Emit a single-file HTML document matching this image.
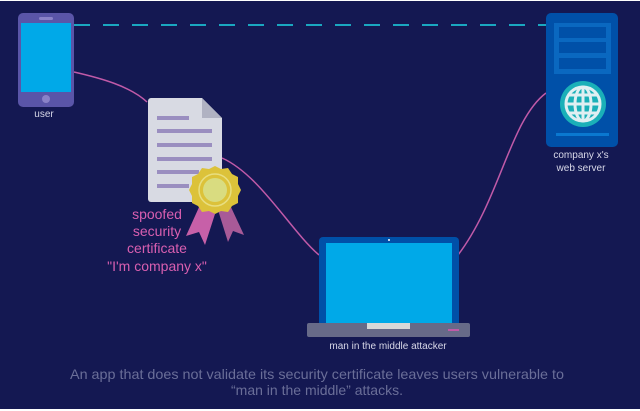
<!DOCTYPE html>
<html><head><style>
body{margin:0;width:640px;height:411px;overflow:hidden;background:#fff}
svg{display:block}
text{font-family:"Liberation Sans",sans-serif}
</style></head><body>
<svg width="640" height="411" viewBox="0 0 640 411">
<rect x="0" y="1" width="640" height="408" fill="#141852"/>
<line x1="74" y1="25" x2="546" y2="25" stroke="#1aa7c0" stroke-width="2" stroke-dasharray="16,13"/>
<path d="M74,72 C100,78 130,86 147,102" fill="none" stroke="#c05aa8" stroke-width="1.5"/>
<path d="M222,158 C260,175 290,230 319,255" fill="none" stroke="#c05aa8" stroke-width="1.5"/>
<path d="M458,255 C500,200 510,120 546,93" fill="none" stroke="#c05aa8" stroke-width="1.5"/>
<rect x="18" y="13" width="56" height="94" rx="5" fill="#5a55a8"/>
<rect x="21" y="23" width="50" height="69" fill="#00a9e8"/>
<rect x="39" y="17" width="14" height="3" rx="1.5" fill="#8a82c8"/>
<circle cx="46" cy="99" r="4" fill="#8a82c8"/>
<text x="44" y="117" font-size="10" fill="#d8d8e8" text-anchor="middle">user</text>
<path d="M151,98 H202 L222,118 V199 a3,3 0 0 1 -3,3 H151 a3,3 0 0 1 -3,-3 V101 a3,3 0 0 1 3,-3Z" fill="#d8dae3"/>
<path d="M202,98 L222,118 H202Z" fill="#b0b2c2"/>
<g fill="#9a8ec0">
<rect x="157" y="116" width="32" height="4"/>
<rect x="157" y="129" width="55" height="4"/>
<rect x="157" y="143" width="55" height="4"/>
<rect x="157" y="157" width="55" height="4"/>
<rect x="157" y="170" width="42" height="4"/>
<rect x="157" y="184" width="32" height="4"/>
</g>
<path d="M200,205 L186,236 L199,232 L205,245 L215,214Z" fill="#c760a8"/>
<path d="M218,210 L228,242 L233,231 L244,235 L230,205Z" fill="#a85a98"/>
<polygon points="215,166 221,169 228,168 232,174 238,177 238,184 241,190 238,196 238,203 232,206 228,212 221,211 215,214 209,211 202,212 198,206 192,203 192,196 189,190 192,184 192,177 198,174 202,168 209,169" fill="#dcc23a"/>
<circle cx="215" cy="190" r="16" fill="none" stroke="#e8de80" stroke-width="1.5"/>
<circle cx="215" cy="190" r="12" fill="#d9dc80"/>
<g font-size="14" fill="#d95fb0" text-anchor="middle">
<text x="157" y="219">spoofed</text>
<text x="157" y="236">security</text>
<text x="157" y="253">certificate</text>
<text x="157" y="271">"I'm company x"</text>
</g>
<rect x="546" y="13" width="72" height="134" rx="5" fill="#0050a8"/>
<rect x="554" y="23" width="57" height="51" fill="#0a68c0"/>
<g fill="#0050a8"><rect x="559" y="27" width="47" height="11"/><rect x="559" y="42" width="47" height="11"/><rect x="559" y="58" width="47" height="11"/></g>
<circle cx="583" cy="104" r="23" fill="#1ab0b8"/>
<g fill="none" stroke="#dfeff2" stroke-width="3">
<circle cx="583" cy="104" r="17"/>
<ellipse cx="583" cy="104" rx="8" ry="17"/>
<line x1="583" y1="87" x2="583" y2="121"/>
<line x1="566" y1="104" x2="600" y2="104"/>
<line x1="569" y1="95" x2="597" y2="95"/>
<line x1="569" y1="113" x2="597" y2="113"/>
</g>
<rect x="556" y="133" width="53" height="3" fill="#0a78d0"/>
<g font-size="10" fill="#d8d8e8" text-anchor="middle">
<text x="581" y="158">company x's</text>
<text x="581" y="171">web server</text>
</g>
<rect x="319" y="237" width="140" height="90" rx="4" fill="#0050a8"/>
<rect x="326" y="243" width="126" height="82" fill="#00a9e8"/>
<circle cx="389" cy="240" r="1" fill="#fff"/>
<rect x="307" y="323" width="163" height="14" rx="2" fill="#676a88"/>
<rect x="367" y="323" width="43" height="6" fill="#d8d8d8"/>
<rect x="448" y="329" width="11" height="2" fill="#c05aa8"/>
<text x="388" y="349" font-size="10" fill="#d8d8e8" text-anchor="middle">man in the middle attacker</text>
<g font-size="14" fill="#6a6e98" text-anchor="middle">
<text x="317" y="379" textLength="494" lengthAdjust="spacingAndGlyphs">An app that does not validate its security certificate leaves users vulnerable to</text>
<text x="317" y="395">“man in the middle” attacks.</text>
</g>
</svg>
</body></html>
